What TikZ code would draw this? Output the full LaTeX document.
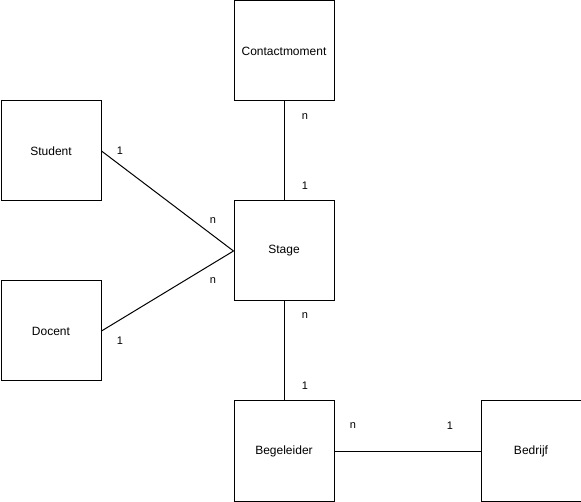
\documentclass[tikz,border=0pt]{standalone}
\usepackage{fontspec}
\setmainfont{Liberation Sans}
\begin{document}
\begin{tikzpicture}[x=1pt,y=-1pt,
  ent/.style={draw,line width=1pt,minimum width=100pt,minimum height=100pt,inner sep=0pt,font=\fontsize{12}{14}\selectfont,anchor=north west},
  lbl/.style={font=\fontsize{11}{13}\selectfont,inner sep=0pt},
  conn/.style={line width=1pt}]
\useasboundingbox[fill=white] (0,0) rectangle (581,502);
\node[ent] (contact) at (233.5,0.5) {Contactmoment};
\node[ent] (student) at (0.5,100.5) {Student};
\node[ent] (stage) at (233.5,200.5) {Stage};
\node[ent] (docent) at (0.5,280.5) {Docent};
\node[ent] (begel) at (233.5,400.5) {Begeleider};
\node[ent] (bedrijf) at (480.5,400.5) {Bedrijf};
\draw[conn] (contact.south) -- (stage.north);
\draw[conn] (student.east) -- (stage.west);
\draw[conn] (docent.east) -- (stage.west);
\draw[conn] (stage.south) -- (begel.north);
\draw[conn] (begel.east) -- (bedrijf.west);
\node[lbl] (l1) at (305,117) {n};
\node[lbl] (l2) at (305,186) {1};
\node[lbl] (l3) at (120,151) {1};
\node[lbl] (l4) at (213,221) {n};
\node[lbl] (l5) at (213,281) {n};
\node[lbl] (l6) at (120,341) {1};
\node[lbl] (l7) at (305,316) {n};
\node[lbl] (l8) at (305,386) {1};
\node[lbl] (l9) at (353,426) {n};
\node[lbl] (l10) at (450,426) {1};
\end{tikzpicture}
\end{document}
